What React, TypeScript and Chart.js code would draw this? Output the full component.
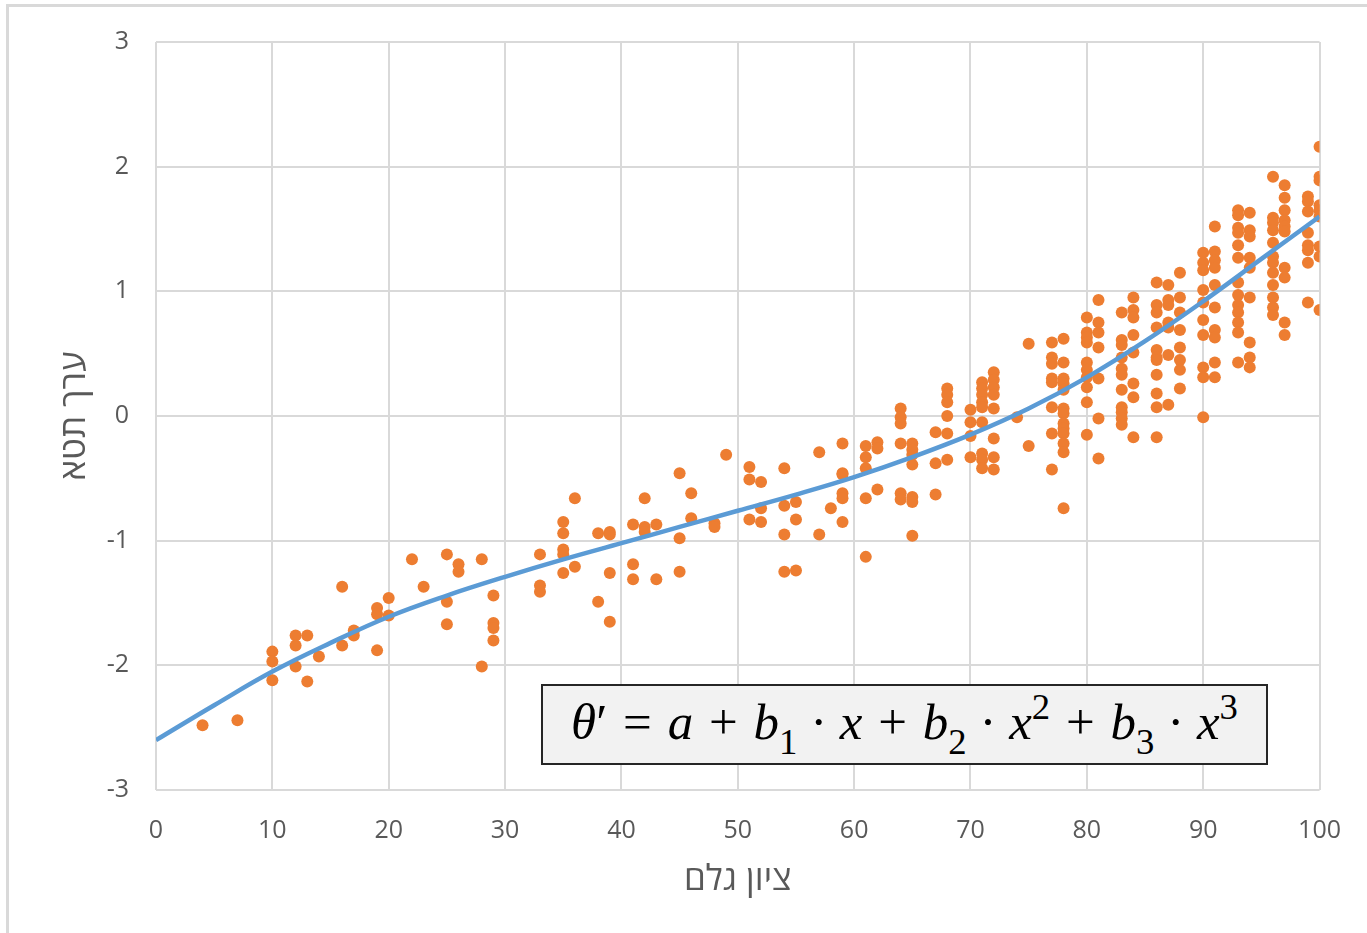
import React, { useEffect, useRef } from "react";
import { Chart, registerables } from "chart.js";

Chart.register(...registerables);

// Raw score (x) and the theta values observed at that score (y)
const rawScores = [
  4, 7, 10, 12, 13, 14, 16, 17, 19, 20, 22, 23, 25, 26, 28, 29, 33, 35, 36, 38,
  39, 41, 42, 43, 45, 46, 48, 49, 51, 52, 54, 55, 57, 58, 59, 61, 62, 64, 65,
  67, 68, 70, 71, 72, 74, 75, 77, 78, 80, 81, 83, 84, 86, 87, 88, 90, 91, 93,
  94, 96, 97, 99, 100,
];

const thetaByScore = [
  [-2.48],
  [-2.44],
  [-1.89, -1.97, -2.12],
  [-1.76, -1.84, -2.01],
  [-1.76, -2.13],
  [-1.93],
  [-1.37, -1.84],
  [-1.72, -1.76],
  [-1.54, -1.59, -1.88],
  [-1.46, -1.6],
  [-1.15],
  [-1.37],
  [-1.11, -1.49, -1.67],
  [-1.19, -1.25],
  [-1.15, -2.01],
  [-1.44, -1.66, -1.7, -1.8],
  [-1.11, -1.36, -1.41],
  [-0.85, -0.94, -1.07, -1.11, -1.26],
  [-0.66, -1.21],
  [-0.94, -1.49],
  [-0.93, -0.95, -1.26, -1.65],
  [-0.87, -1.19, -1.31],
  [-0.66, -0.89, -0.93],
  [-0.87, -1.31],
  [-0.46, -0.98, -1.25],
  [-0.62, -0.82],
  [-0.86, -0.89],
  [-0.31],
  [-0.41, -0.51, -0.83],
  [-0.53, -0.74, -0.85],
  [-0.42, -0.72, -0.95, -1.25],
  [-0.69, -0.83, -1.24],
  [-0.29, -0.95],
  [-0.74],
  [-0.22, -0.46, -0.47, -0.62, -0.66, -0.85],
  [-0.24, -0.33, -0.42, -0.66, -1.13],
  [-0.21, -0.26, -0.59],
  [0.06, -0.01, -0.06, -0.22, -0.62, -0.67],
  [-0.22, -0.27, -0.31, -0.39, -0.65, -0.69, -0.96],
  [-0.13, -0.38, -0.63],
  [0.22, 0.17, 0.11, 0.0, -0.14, -0.35],
  [0.05, -0.05, -0.16, -0.33],
  [0.27, 0.22, 0.17, 0.11, 0.07, -0.05, -0.3, -0.35, -0.42],
  [0.35, 0.29, 0.23, 0.17, 0.06, -0.18, -0.33, -0.43],
  [-0.01],
  [0.58, -0.24],
  [0.59, 0.47, 0.42, 0.3, 0.27, 0.07, -0.14, -0.43],
  [0.62, 0.43, 0.3, 0.26, 0.21, 0.06, 0.02, -0.06, -0.1, -0.14, -0.22, -0.29, -0.74],
  [0.79, 0.67, 0.63, 0.59, 0.43, 0.37, 0.31, 0.23, 0.11, -0.15],
  [0.93, 0.75, 0.67, 0.55, 0.3, -0.02, -0.34],
  [0.83, 0.61, 0.57, 0.47, 0.38, 0.33, 0.21, 0.07, 0.03, -0.02, -0.07],
  [0.95, 0.85, 0.79, 0.65, 0.51, 0.26, 0.15, -0.17],
  [1.07, 0.89, 0.83, 0.71, 0.53, 0.47, 0.45, 0.33, 0.18, 0.07, -0.17],
  [1.05, 0.93, 0.89, 0.75, 0.71, 0.49, 0.09],
  [1.15, 0.95, 0.83, 0.69, 0.55, 0.45, 0.37, 0.22],
  [1.31, 1.23, 1.17, 1.01, 0.91, 0.77, 0.65, 0.39, 0.31, -0.01],
  [1.52, 1.32, 1.25, 1.19, 1.05, 0.87, 0.69, 0.63, 0.43, 0.31],
  [1.65, 1.61, 1.51, 1.47, 1.37, 1.27, 1.07, 0.97, 0.89, 0.83, 0.75, 0.67, 0.43],
  [1.63, 1.49, 1.44, 1.27, 1.19, 0.95, 0.59, 0.47, 0.39],
  [1.92, 1.59, 1.55, 1.49, 1.39, 1.28, 1.23, 1.15, 1.05, 0.95, 0.87, 0.81],
  [1.85, 1.75, 1.65, 1.57, 1.52, 1.48, 1.19, 1.11, 0.75, 0.65],
  [1.76, 1.72, 1.64, 1.47, 1.37, 1.33, 1.23, 0.91],
  [2.16, 1.92, 1.89, 1.69, 1.65, 1.6, 1.36, 1.28, 0.85],
];

// Fitted cubic trend
const trendScores = [0, 5, 10, 15, 20, 25, 30, 35, 40, 45, 50, 55, 60, 65, 70, 75, 80, 85, 90, 95, 100];
const trendTheta = [
  -2.6, -2.32, -2.05, -1.82, -1.61, -1.44, -1.29, -1.15, -1.02, -0.89, -0.76,
  -0.63, -0.49, -0.33, -0.15, 0.06, 0.31, 0.6, 0.92, 1.26, 1.6,
];

const xTitle = "ציון גלם";
const yTitle = "ערך תטא";

const FONT = '"Open Sans", "Liberation Sans", "DejaVu Sans", sans-serif';

export default function App() {
  const canvasRef = useRef<HTMLCanvasElement | null>(null);

  useEffect(() => {
    const canvas = canvasRef.current;
    if (!canvas) return;
    const points: { x: number; y: number }[] = [];
    rawScores.forEach((s, i) => {
      thetaByScore[i].forEach((t) => points.push({ x: s, y: t }));
    });
    const trend = trendScores.map((s, i) => ({ x: s, y: trendTheta[i] }));

    const chart = new Chart(canvas, {
      type: "scatter",
      data: {
        datasets: [
          {
            type: "line",
            data: trend,
            borderColor: "#5B9BD5",
            borderWidth: 4.5,
            pointRadius: 0,
            showLine: true,
            fill: false,
            tension: 0.4,
            order: 0,
          } as any,
          {
            type: "scatter",
            data: points,
            backgroundColor: "#ED7D31",
            borderWidth: 0,
            pointRadius: 6,
            order: 1,
          },
        ],
      },
      options: {
        responsive: false,
        animation: false,
        devicePixelRatio: 1,
        layout: { padding: { left: 0, top: 42, right: 47, bottom: 0 } },
        plugins: {
          legend: { display: false },
          tooltip: { enabled: false },
        },
        scales: {
          x: {
            type: "linear",
            min: 0,
            max: 100,
            border: { display: false },
            grid: { color: "#d9d9d9", lineWidth: 2, drawTicks: false },
            ticks: {
              stepSize: 10,
              padding: 26,
              color: "#595959",
              font: { family: FONT, size: 25 },
              maxRotation: 0,
            },
            title: {
              display: true,
              text: xTitle,
              color: "#595959",
              font: { family: FONT, size: 35 },
              padding: { top: 0, bottom: 32 },
            },
            afterFit: (scale: any) => {
              scale.height = 143;
            },
          },
          y: {
            type: "linear",
            min: -3,
            max: 3,
            border: { display: false },
            grid: { color: "#d9d9d9", lineWidth: 2, drawTicks: false },
            ticks: {
              stepSize: 1,
              padding: 27,
              color: "#595959",
              font: { family: FONT, size: 25 },
            },
            title: {
              display: true,
              text: yTitle,
              color: "#595959",
              font: { family: FONT, size: 35 },
              padding: { top: 54, bottom: 0 },
            },
            afterFit: (scale: any) => {
              scale.width = 156;
            },
          },
        },
      },
    });
    return () => chart.destroy();
  }, []);

  const letter: React.CSSProperties = { fontStyle: "italic" };
  const op: React.CSSProperties = { margin: "0 0.06em" };
  const sub: React.CSSProperties = { fontSize: "0.72em", verticalAlign: "-0.4em", fontStyle: "normal" };
  const sup: React.CSSProperties = { fontSize: "0.72em", verticalAlign: "0.55em", fontStyle: "normal" };

  return (
    <div style={{ position: "fixed", left: 0, top: 0, width: 1367, height: 933, overflow: "hidden", background: "#fff" }}>
      <div
        style={{
          position: "absolute",
          left: 6,
          top: 4,
          width: 1400,
          height: 1000,
          border: "3px solid #d9d9d9",
          boxSizing: "border-box",
        }}
      />
      <canvas ref={canvasRef} width={1367} height={933} style={{ position: "absolute", left: 0, top: 0 }} />
      <div
        style={{
          position: "absolute",
          left: 541,
          top: 684,
          width: 727,
          height: 81,
          boxSizing: "border-box",
          border: "2px solid #262626",
          background: "#f2f2f2",
          display: "flex",
          alignItems: "center",
          justifyContent: "center",
          fontFamily: '"Liberation Serif", "DejaVu Serif", serif',
          fontSize: 51,
          color: "#000",
          whiteSpace: "nowrap",
          lineHeight: 1,
        }}
      >
        <span>
          <span style={letter}>θ</span>′ <span style={op}>=</span> <span style={letter}>a</span>{" "}
          <span style={op}>+</span> <span style={letter}>b</span>
          <span style={sub}>1</span> · <span style={letter}>x</span> <span style={op}>+</span>{" "}
          <span style={letter}>b</span>
          <span style={sub}>2</span> · <span style={letter}>x</span>
          <span style={sup}>2</span> <span style={op}>+</span> <span style={letter}>b</span>
          <span style={sub}>3</span> · <span style={letter}>x</span>
          <span style={sup}>3</span>
        </span>
      </div>
    </div>
  );
}
